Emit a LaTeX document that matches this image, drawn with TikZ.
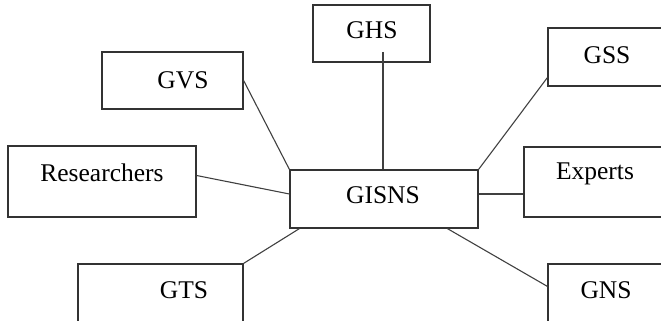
\documentclass[tikz,border=0pt]{standalone}
\usepackage{fontspec}
\setmainfont{Liberation Serif}
\usetikzlibrary{calc}

\begin{document}
\begin{tikzpicture}[x=1pt,y=-1pt,
  box/.style={rectangle,draw=black!80,line width=1.2pt,inner sep=0pt},
  lbl/.style={inner sep=0pt,font=\fontsize{25.5}{30}\selectfont},
  link/.style={draw=black!75,line width=1.1pt}]
\useasboundingbox (0,0) rectangle (661,321);
\clip (0,0) rectangle (661,321);

\node [box,minimum width=141pt,minimum height=57pt] (gvs) at (172.5,80.5) {};
\node [box,minimum width=188pt,minimum height=71pt] (res) at (102,181.5) {};
\node [box,minimum width=165pt,minimum height=70pt] (gts) at (160.5,299) {};
\node [box,minimum width=188pt,minimum height=58pt] (gisns) at (384,199) {};
\node [box,minimum width=117pt,minimum height=57pt] (ghs) at (371.5,33.5) {};
\node [box,minimum width=132pt,minimum height=58pt] (gss) at (614,57) {};
\node [box,minimum width=156pt,minimum height=70pt] (exp) at (602,182) {};
\node [box,minimum width=132pt,minimum height=70pt] (gns) at (614,299) {};

\node [lbl] (gvs-t) at (183,80) {GVS};
\node [lbl] (res-t) at (102,173) {Researchers};
\node [lbl] (gts-t) at (184,290) {GTS};
\node [lbl] (gisns-t) at (383,195) {GISNS};
\node [lbl] (ghs-t) at (372,30) {GHS};
\node [lbl] (gss-t) at (607,55) {GSS};
\node [lbl] (exp-t) at (595,174) {Experts};
\node [lbl] (gns-t) at (606,290) {GNS};

\coordinate (c-ghs) at (383,52);
\coordinate (c-exp) at ($(gisns.east)+(0,-5)$);
\draw [link] (c-ghs) -- (c-ghs |- gisns.north);
\draw [link] (gvs.east) -- (gisns.north west);
\draw [link] ($(gss.south west)+(0,-9)$) -- (gisns.north east);
\draw [link] ($(res.east)+(0,-6)$) -- ($(gisns.west)+(0,-5)$);
\draw [link] (c-exp) -- (c-exp -| exp.west);
\draw [link] (gts.north east) -- ($(gisns.south west)+(10,0)$);
\draw [link] ($(gisns.south west)+(158,0)$) -- ($(gns.north west)+(0,23)$);
\end{tikzpicture}
\end{document}
